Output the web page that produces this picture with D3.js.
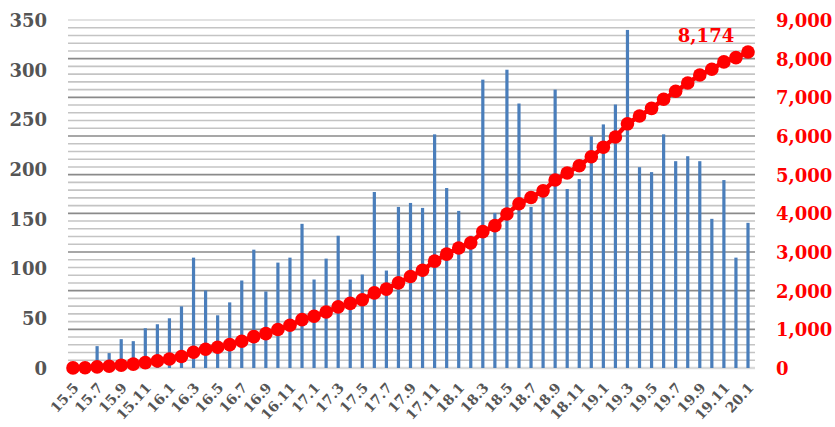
<!DOCTYPE html>
<html>
<head>
<meta charset="utf-8">
<script src="https://d3js.org/d3.v7.min.js"></script>
<style>
  body { margin: 0; background: #fff; }
  svg text { font-family: "DejaVu Serif", serif; font-weight: bold; }
</style>
</head>
<body>
<svg></svg>
<script>
var width = 835, height = 427;

// monthly data, 2015.5 - 2020.1
var months = ["15.5","15.6","15.7","15.8","15.9","15.10","15.11","15.12",
  "16.1","16.2","16.3","16.4","16.5","16.6","16.7","16.8","16.9","16.10","16.11","16.12",
  "17.1","17.2","17.3","17.4","17.5","17.6","17.7","17.8","17.9","17.10","17.11","17.12",
  "18.1","18.2","18.3","18.4","18.5","18.6","18.7","18.8","18.9","18.10","18.11","18.12",
  "19.1","19.2","19.3","19.4","19.5","19.6","19.7","19.8","19.9","19.10","19.11","19.12",
  "20.1"];
var monthly = [3,4,22,15,29,27,40,44,
  50,62,111,78,53,66,88,119,77,106,111,145,
  89,110,133,89,94,177,98,162,166,161,235,181,
  158,133,290,156,300,266,162,172,280,180,190,233,
  245,265,340,202,197,235,208,213,208,150,189,111,
  146];
var cumulative = [3,7,29,44,73,100,140,184,
  234,296,407,485,538,604,692,811,888,994,1105,1250,
  1339,1449,1582,1671,1765,1942,2040,2202,2368,2529,2764,2945,
  3103,3236,3526,3682,3982,4248,4410,4582,4862,5042,5232,5465,
  5710,5975,6315,6517,6714,6949,7157,7370,7578,7728,7917,8028,
  8174];
var leftTicks = [0,50,100,150,200,250,300,350];
var rightTicks = [0,1000,2000,3000,4000,5000,6000,7000,8000,9000];
var shownLabels = months.filter(function(d, i) { return i % 2 === 0; });
var lastLabel = "8,174";

var svg = d3.select("svg").attr("width", width).attr("height", height);

var x0 = 68, x1 = 755, yTop = 20, yBot = 368;

var x = d3.scalePoint().domain(months).range([73, 748]);
var yL = d3.scaleLinear().domain([0, 350]).range([yBot, yTop]);
var yR = d3.scaleLinear().domain([0, 9000]).range([yBot, yTop]);

// minor gridlines every 200 (right axis)
var minor = d3.range(0, 9001, 200).filter(function(d) { return d % 1000 !== 0; });
svg.append("g").selectAll("line").data(minor).enter().append("line")
  .attr("x1", x0).attr("x2", x1)
  .attr("y1", function(d) { return yR(d); }).attr("y2", function(d) { return yR(d); })
  .attr("stroke", "#c4c4c4").attr("stroke-width", 1.6);

// major gridlines
svg.append("g").selectAll("line").data(rightTicks).enter().append("line")
  .attr("x1", x0).attr("x2", x1)
  .attr("y1", function(d) { return yR(d); }).attr("y2", function(d) { return yR(d); })
  .attr("stroke", function(d) { return (d === 0 || d === 9000) ? "#d9d9d9" : "#8a8a8a"; })
  .attr("stroke-width", function(d) { return d === 0 ? 2.5 : 1.6; });

// bars
svg.append("g").selectAll("rect").data(monthly).enter().append("rect")
  .attr("x", function(d, i) { return x(months[i]) - 1.6; })
  .attr("width", 3.2)
  .attr("y", function(d) { return yL(d); })
  .attr("height", function(d) { return yBot - yL(d); })
  .attr("fill", "#4a7ebb");

// cumulative line
var line = d3.line()
  .x(function(d, i) { return x(months[i]); })
  .y(function(d) { return yR(d); });

svg.append("path").datum(cumulative)
  .attr("d", line)
  .attr("fill", "none")
  .attr("stroke", "#ff0000")
  .attr("stroke-width", 4.5);

svg.append("g").selectAll("circle").data(cumulative).enter().append("circle")
  .attr("cx", function(d, i) { return x(months[i]); })
  .attr("cy", function(d) { return yR(d); })
  .attr("r", 6.8)
  .attr("fill", "#ff0000");

svg.append("text")
  .attr("x", x(months[months.length - 1]) - 42)
  .attr("y", yR(cumulative[cumulative.length - 1]) - 10)
  .attr("text-anchor", "middle")
  .attr("fill", "#ff0000")
  .style("font-size", "18px")
  .text(lastLabel);

// left axis labels
svg.append("g").selectAll("text").data(leftTicks).enter().append("text")
  .attr("x", 47)
  .attr("y", function(d) { return yL(d); })
  .attr("dy", "0.38em")
  .attr("text-anchor", "end")
  .attr("fill", "#555555")
  .style("font-size", "18px")
  .text(function(d) { return d; });

// right axis labels
svg.append("g").selectAll("text").data(rightTicks).enter().append("text")
  .attr("x", 776)
  .attr("y", function(d) { return yR(d); })
  .attr("dy", "0.38em")
  .attr("text-anchor", "start")
  .attr("fill", "#ff0000")
  .style("font-size", "18px")
  .text(function(d) { return d3.format(",")(d); });

// x labels
svg.append("g").selectAll("text").data(shownLabels).enter().append("text")
  .attr("transform", function(d) { return "translate(" + (x(d) + 3) + "," + 385 + ") rotate(-48)"; })
  .attr("text-anchor", "end")
  .attr("dy", "0.35em")
  .attr("fill", "#555555")
  .style("font-size", "14px")
  .text(function(d) { return d; });
</script>
</body>
</html>
